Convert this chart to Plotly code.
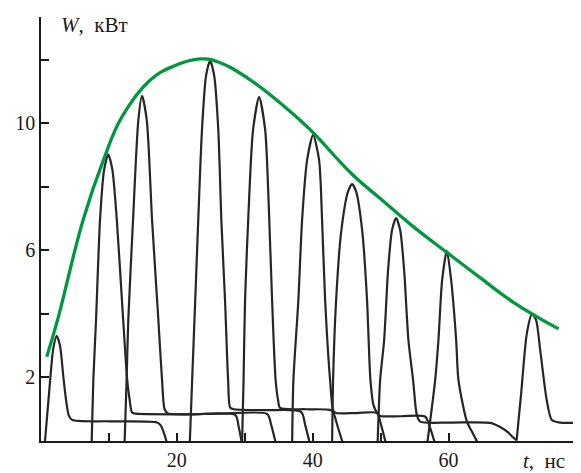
import plotly.graph_objects as go

# Envelope (green)
env_t = [0.85, 2.55, 6.2, 9.2, 11.9, 16.05, 19.5, 23.4, 25.9, 30.8, 38.1, 40.1, 45.8, 49.9, 54.8, 59.8, 64.6, 69.6, 76.2]
env_w = [2.65, 3.9, 6.96, 8.85, 10.2, 11.36, 11.8, 12.03, 11.95, 11.37, 10.11, 9.70, 8.40, 7.64, 6.75, 5.93, 5.15, 4.36, 3.53]

# Individual pulses (black)
p1_t = [0.55, 1.3, 1.8, 2.3, 2.8, 3.3, 3.75, 4.1, 4.6, 10.0, 17.0, 17.6, 18.1, 18.6]
p1_w = [-0.1, 1.8, 2.9, 3.31, 3.0, 2.0, 1.2, 0.8, 0.66, 0.62, 0.59, 0.5, 0.25, -0.1]

p2_t = [7.45, 7.7, 8.1, 8.7, 9.3, 9.9, 10.5, 11.15, 12.1, 12.7, 13.05, 13.4, 14.0, 22.0, 28.6, 29.1, 29.6]
p2_w = [-0.1, 1.9, 3.8, 7.0, 8.55, 9.02, 8.55, 7.0, 3.8, 1.9, 1.3, 0.9, 0.86, 0.84, 0.82, 0.45, -0.1]

p3_t = [12.3, 12.6, 12.85, 13.55, 14.33, 14.87, 15.57, 16.35, 17.28, 17.82, 18.2, 18.7, 26.0, 33.3, 33.9, 34.6]
p3_w = [-0.1, 1.9, 3.8, 6.96, 10.1, 10.87, 10.1, 6.96, 3.81, 1.92, 1.0, 0.87, 0.86, 0.85, 0.5, -0.1]

p4_t = [21.9, 22.25, 22.7, 23.15, 23.7, 24.3, 24.9, 25.5, 26.1, 26.55, 27.1, 27.55, 27.85, 28.4, 33.0, 38.3, 38.9, 39.6]
p4_w = [-0.1, 1.9, 4.4, 6.96, 9.8, 11.5, 11.97, 11.5, 9.8, 6.96, 4.4, 1.9, 1.05, 1.0, 0.97, 0.92, 0.5, -0.1]

p5_t = [29.6, 29.82, 30.04, 30.63, 31.22, 32.11, 33.0, 33.5, 34.02, 34.54, 34.9, 35.2, 39.0, 42.56, 43.0, 43.74, 44.48]
p5_w = [-0.1, 1.92, 4.44, 7.59, 9.8, 10.83, 9.8, 7.59, 4.44, 1.92, 1.29, 1.04, 1.0, 0.98, 0.91, 0.41, -0.1]

p6_t = [36.97, 37.16, 37.89, 38.44, 39.18, 40.06, 40.94, 41.38, 41.83, 42.56, 43.05, 43.45, 46.5, 49.48, 50.07, 50.81]
p6_w = [-0.1, 1.92, 4.44, 6.96, 8.85, 9.64, 8.85, 6.96, 4.44, 1.92, 0.94, 0.88, 0.88, 0.88, 0.5, -0.1]

p7_t = [42.86, 43.0, 43.45, 44.2, 45.2, 45.8, 46.4, 47.3, 48.0, 48.5, 48.95, 49.5, 49.93, 53.0, 56.55, 57.29, 58.03]
p7_w = [-0.1, 1.92, 4.44, 6.6, 7.85, 8.09, 7.85, 6.6, 4.44, 1.92, 1.13, 0.88, 0.79, 0.78, 0.77, 0.41, -0.1]

p8_t = [49.55, 49.93, 50.52, 51.1, 51.69, 52.28, 52.87, 53.46, 54.09, 54.78, 55.33, 55.82, 60.24, 66.13, 67.6, 68.77, 69.51, 70.02]
p8_w = [-0.1, 1.92, 3.18, 5.39, 6.65, 7.02, 6.65, 5.39, 3.18, 1.92, 0.82, 0.61, 0.58, 0.57, 0.44, 0.27, 0.11, 0.02]

p9_t = [56.85, 58.03, 58.51, 59.06, 59.75, 60.38, 61.12, 61.46, 62.7, 63.48, 64.4]
p9_w = [-0.1, 1.92, 3.18, 5.07, 5.99, 5.07, 3.18, 1.92, 0.61, 0.28, -0.1]

p10_t = [70.02, 70.69, 71.53, 72.3, 72.9, 73.49, 74.45, 75.2, 76.4, 79.6]
p10_w = [0.02, 1.5, 3.39, 4.0, 3.8, 2.87, 1.29, 0.66, 0.58, 0.58]

pulses = [(p1_t, p1_w), (p2_t, p2_w), (p3_t, p3_w), (p4_t, p4_w), (p5_t, p5_w),
          (p6_t, p6_w), (p7_t, p7_w), (p8_t, p8_w), (p9_t, p9_w), (p10_t, p10_w)]

x_tickvals = [10, 20, 30, 40, 50, 60]
x_ticktext = ["", "20", "", "40", "", "60"]
y_tickvals = [2, 4, 6, 8, 10, 12]
y_ticktext = ["2", "", "6", "", "10", ""]

FONT = "Liberation Serif, Times New Roman, serif"
INK = "#1a1a1a"

fig = go.Figure()
for t, w in pulses:
    fig.add_trace(go.Scatter(x=t, y=w, mode="lines",
                             line=dict(color="#262626", width=2.2, shape="spline", smoothing=0.7),
                             hoverinfo="skip", showlegend=False))
fig.add_trace(go.Scatter(x=env_t, y=env_w, mode="lines",
                         line=dict(color="#00983F", width=3.3, shape="spline", smoothing=1.2),
                         hoverinfo="skip", showlegend=False))

# The page body has an 8px margin, so the figure is sized/offset to fit the 581x473 window.
fig.update_layout(
    width=573, height=465,
    margin=dict(l=33, r=0, t=9, b=32, pad=0),
    paper_bgcolor="white", plot_bgcolor="white",
    font=dict(family=FONT, size=20, color=INK),
    xaxis=dict(range=[0, 79.5], showgrid=False, zeroline=False, showline=True,
               linecolor=INK, linewidth=1.5, ticks="inside", ticklen=8,
               tickwidth=1.5, tickcolor=INK, tickvals=x_tickvals, ticktext=x_ticktext,
               tickfont=dict(family=FONT, size=20, color=INK)),
    yaxis=dict(range=[0, 13.35], showgrid=False, zeroline=False, showline=True,
               linecolor=INK, linewidth=1.5, ticks="inside", ticklen=8,
               tickwidth=1.5, tickcolor=INK, tickvals=y_tickvals, ticktext=y_ticktext,
               tickfont=dict(family=FONT, size=20, color=INK)),
    annotations=[
        dict(text="<i>W</i>,&nbsp; кВт", xref="paper", yref="paper", x=0.034, y=0.981,
             xanchor="left", yanchor="middle", showarrow=False,
             font=dict(family=FONT, size=21, color=INK)),
        dict(text="<i>t</i>,&nbsp; нс", xref="paper", yref="paper", x=0.889, y=-0.047,
             xanchor="left", yanchor="middle", showarrow=False,
             font=dict(family=FONT, size=21, color=INK)),
    ],
)

fig.write_html("out.html")
